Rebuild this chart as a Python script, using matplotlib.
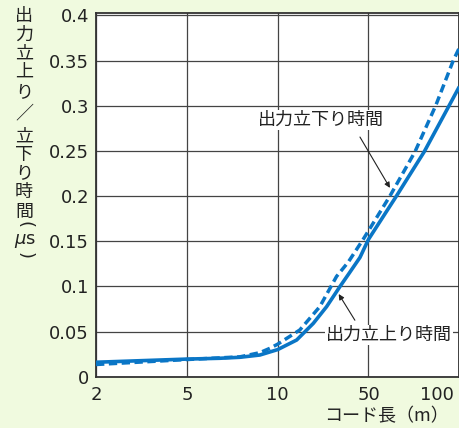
import numpy as np
import matplotlib
matplotlib.use('Agg')
import matplotlib.pyplot as plt

plt.rcParams['font.family'] = ['DejaVu Sans', 'Noto Sans CJK JP']
JP = ['Noto Sans CJK JP', 'DejaVu Sans']

# ---- data ----
tick_m = [2, 5, 10, 50, 100]
tick_labels = ['2', '5', '10', '50', '100 ']
y_ticks = [0, 0.05, 0.1, 0.15, 0.2, 0.25, 0.3, 0.35, 0.4]
y_tick_labels = ['0', '0.05', '0.1', '0.15', '0.2', '0.25', '0.3', '0.35', '0.4']

rise_m = [2, 5, 6.43, 7.5, 8.73, 10, 14, 18.8, 23.8, 30.1, 35.5, 43.0, 50,
          61.9, 76.5, 92.5, 100]
rise_us = [0.016, 0.0195, 0.0204, 0.0215, 0.024, 0.030, 0.0406, 0.059, 0.0775,
           0.0996, 0.1145, 0.132, 0.152, 0.200, 0.249, 0.300, 0.321]
fall_m = [2, 5, 7.5, 8.73, 9.42, 10, 14.8, 21.1, 28.4, 35.0, 45.5, 58.9, 71.3,
          83.5, 95.5, 100]
fall_us = [0.0135, 0.019, 0.022, 0.0266, 0.0314, 0.036, 0.0517, 0.0775, 0.111,
           0.127, 0.152, 0.200, 0.249, 0.300, 0.350, 0.364]

# ---- piecewise-log axis: ticks equally spaced ----
log_ticks = np.log10(tick_m)
tick_pos = np.arange(len(tick_m), dtype=float)

def fwd(x):
    x = np.asarray(x, dtype=float)
    return np.interp(np.log10(np.maximum(x, 1e-12)), log_ticks, tick_pos)

def inv(p):
    p = np.asarray(p, dtype=float)
    return 10 ** np.interp(p, tick_pos, log_ticks)

W, H = 460, 428
fig = plt.figure(figsize=(W / 100, H / 100), dpi=100, facecolor='#f0fadf')
ax = fig.add_axes([96 / W, (H - 376.7) / H, (459.3 - 96) / W, (376.7 - 13) / H])
ax.set_facecolor('white')
ax.set_xscale('function', functions=(fwd, inv))
ax.set_xlim(2, 100)
ax.set_ylim(0, 0.4026)

blue = '#0a76c6'
ax.plot(rise_m, rise_us, color=blue, lw=2.6, solid_capstyle='butt',
        solid_joinstyle='round', zorder=3)
ax.plot(fall_m, fall_us, color=blue, lw=2.5, dashes=(2.4, 1.3), zorder=3)

ax.set_xticks(tick_m)
ax.set_xticklabels(tick_labels)
ax.set_yticks(y_ticks)
ax.set_yticklabels(y_tick_labels)
ax.xaxis.set_minor_locator(matplotlib.ticker.NullLocator())
ax.tick_params(axis='both', length=0, labelsize=13, colors='#222222')
ax.tick_params(axis='x', pad=7)
ax.tick_params(axis='y', pad=5)
xt = ax.get_xticklabels()
xt[-1].set_horizontalalignment('right')

ax.grid(True, color='#444444', lw=0.9)
ax.set_axisbelow(True)
for s in ax.spines.values():
    s.set_color('#333333')
    s.set_linewidth(1.3)

# annotations
ax.text(21.6, 0.284, '出力立下り時間', family=JP, fontsize=13, ha='center', va='center',
        color='#222222', bbox=dict(facecolor='white', edgecolor='none', pad=0.5), zorder=4)
ax.annotate('', xy=(58.9, 0.209), xytext=(43.0, 0.2653),
            arrowprops=dict(arrowstyle='-|>', color='#222222', lw=0.8,
                            mutation_scale=8, shrinkA=0, shrinkB=0), zorder=5)
ax.text(58.5, 0.0462, '出力立上り時間', family=JP, fontsize=13, ha='center', va='center',
        color='#222222', bbox=dict(facecolor='white', edgecolor='none', pad=0.5), zorder=4)
ax.annotate('', xy=(29.5, 0.0915), xytext=(39.3, 0.0625),
            arrowprops=dict(arrowstyle='-|>', color='#222222', lw=0.8,
                            mutation_scale=8, shrinkA=0, shrinkB=0), zorder=5)

# x label
fig.text(386 / W, 1 - 416 / H, 'コード長（m）', family=JP, fontsize=13,
         ha='center', va='center', color='#222222')

# vertical y label
ylab = [('出', 16), ('力', 35), ('立', 54), ('上', 72), ('り', 92), ('／', 113),
        ('立', 137), ('下', 155), ('り', 173), ('時', 192), ('間', 212)]
for ch, yp in ylab:
    fig.text(24 / W, 1 - yp / H, ch, family=JP, fontsize=13, ha='center', va='center',
             color='#222222')
fig.text(25 / W, 1 - 241 / H, r'$\mu$s', fontsize=13, ha='center', va='center',
         color='#222222')
fig.text(25 / W, 1 - 224.5 / H, '(', family='DejaVu Sans', fontsize=13, rotation=-90,
         ha='center', va='center', color='#222222')
fig.text(25 / W, 1 - 255 / H, ')', family='DejaVu Sans', fontsize=13, rotation=-90,
         ha='center', va='center', color='#222222')

fig.savefig('out.png', dpi=100, facecolor=fig.get_facecolor())
